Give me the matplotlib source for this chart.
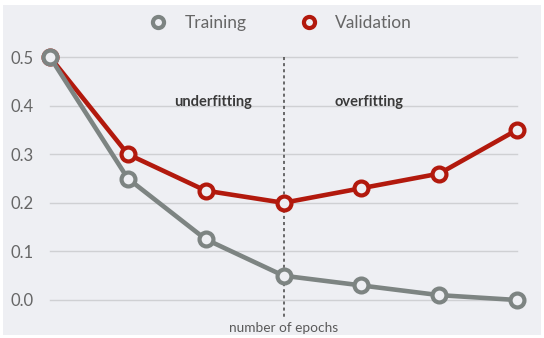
import matplotlib.pyplot as plt
from matplotlib.patches import Rectangle

plt.rcParams["font.family"] = ["Lato", "DejaVu Sans"]

epochs = [0, 1, 2, 3, 4, 5, 6]
training = [0.5, 0.25, 0.125, 0.05, 0.03, 0.01, 0.0]
validation = [0.5, 0.30, 0.225, 0.20, 0.23, 0.26, 0.35]
yticks = [0.0, 0.1, 0.2, 0.3, 0.4, 0.5]

GRAY = "#7d8482"
RED = "#b2190d"
BG = "#eeeff3"

fig = plt.figure(figsize=(5.44, 3.38), dpi=100, facecolor="white")
fig.add_artist(Rectangle((3 / 544, 3 / 338), 538 / 544, 330 / 338,
                         transform=fig.transFigure, facecolor=BG,
                         edgecolor="none", zorder=-10))

ax = fig.add_axes([50 / 544, 38 / 338, 467 / 544, 243 / 338])
ax.set_facecolor("none")
ax.set_xlim(0, 6)
ax.set_ylim(0, 0.5)
for s in ax.spines.values():
    s.set_visible(False)

# horizontal guides
for y in yticks:
    ax.plot([0, 6], [y, y], color="#cfd0d3", lw=1.0, zorder=1, clip_on=False)
ax.set_yticks(yticks)
ax.set_yticklabels([f"{y:.1f}" for y in yticks])
ax.tick_params(axis="y", length=0, pad=12, labelsize=12, labelcolor="#666666")
ax.set_xticks([])

# split between under- and overfitting
ax.plot([3, 3], [0.5, -0.035], color="#444444", lw=1.1, ls=(0, (2, 2)),
        zorder=2, clip_on=False)

mk = dict(marker="o", ms=10, mew=3, mfc=BG, lw=3.3, clip_on=False)
ax.plot(epochs, validation, color=RED, mec=RED, zorder=3,
        label="Validation", **mk)
ax.plot(epochs, training, color=GRAY, mec=GRAY, zorder=4,
        label="Training", **mk)

ax.text(2.1, 0.407, "underfitting", ha="center", va="center",
        fontsize=10.5, fontweight="bold", color="#3a3a3a")
ax.text(4.1, 0.407, "overfitting", ha="center", va="center",
        fontsize=10.5, fontweight="bold", color="#3a3a3a")
ax.text(3, -0.058, "number of epochs", ha="center", va="center",
        fontsize=9.8, color="#5a5a5a")

# legend markers drawn as lines in figure space
h, l = ax.get_legend_handles_labels()
leg = fig.legend([h[1], h[0]], [l[1], l[0]], loc="center",
                 bbox_to_anchor=(285 / 544, 1 - 23 / 338), ncol=2,
                 frameon=False, handlelength=0.0, handletextpad=1.5,
                 columnspacing=3.6, fontsize=12.5,
                 labelcolor="#666666", markerscale=0.8)
for hl in leg.legend_handles:
    hl.set_linestyle("none")

fig.savefig("out.png", dpi=100, facecolor="white")
